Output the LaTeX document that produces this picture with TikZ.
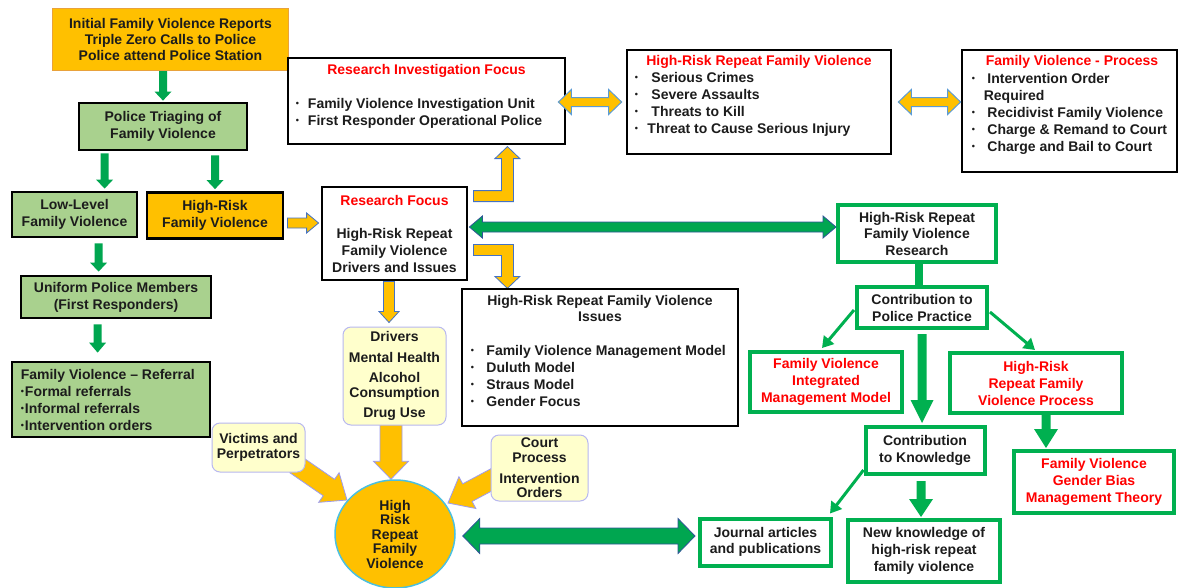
\documentclass[tikz,border=0pt]{standalone}
\usepackage{fontspec}
\setmainfont{Liberation Sans}
\usetikzlibrary{calc,arrows.meta,shapes.geometric}
\pgfdeclarelayer{bg}\pgfsetlayers{bg,main}
\definecolor{orA}{HTML}{FFC000}
\definecolor{lgreen}{HTML}{A9D18E}
\definecolor{gbord}{HTML}{00B050}
\definecolor{garrow}{HTML}{00A650}
\definecolor{ltyel}{HTML}{FFFFCC}
\definecolor{lav}{HTML}{B8B8F0}
\definecolor{circb}{HTML}{4BC0E0}
\definecolor{arrB}{HTML}{4472C4}
\definecolor{arrLB}{HTML}{5B9BD5}
\definecolor{arrLav}{HTML}{9C9CF0}
\definecolor{darkB}{HTML}{2F5597}
\definecolor{redT}{HTML}{FF0000}
\definecolor{txt}{HTML}{1C1C1C}
\definecolor{initB}{HTML}{E9A23B}
\newcommand\sbul{\raisebox{2pt}{\fontsize{9}{9}\selectfont\textbullet}}
\newcommand\blockarrow[6]{%
  \coordinate (bah) at ($(#3)!#6!(#2)$);
  \filldraw[#1] ($(#2)!#4!90:(#3)$) -- ($(bah)!#4!90:(#3)$) -- ($(bah)!#5!90:(#3)$) -- (#3) -- ($(bah)!#5!-90:(#3)$) -- ($(bah)!#4!-90:(#3)$) -- ($(#2)!#4!-90:(#3)$) -- cycle;}
\newcommand\dblarrow[6]{%
  \coordinate (daa) at ($(#2)!#6!(#3)$);
  \coordinate (dab) at ($(#3)!#6!(#2)$);
  \filldraw[#1] (#2) -- ($(daa)!#5!90:(#3)$) -- ($(daa)!#4!90:(#3)$) -- ($(dab)!#4!-90:(#2)$) -- ($(dab)!#5!-90:(#2)$) -- (#3) -- ($(dab)!#5!90:(#2)$) -- ($(dab)!#4!90:(#2)$) -- ($(daa)!#4!-90:(#3)$) -- ($(daa)!#5!-90:(#3)$) -- cycle;}
\tikzset{
  every node/.style={font=\fontsize{14}{17}\selectfont\bfseries, inner sep=0pt, align=center, text=txt},
  sz/.style 2 args={minimum width=#1pt, minimum height=#2pt},
  blk/.style={draw=black, line width=2.8pt},
  gbox/.style={blk, fill=lgreen},
  obox/.style={blk, fill=orA},
  wbox/.style={blk, fill=white},
  initbox/.style={fill=orA, draw=initB, line width=1pt},
  ybox/.style={rounded corners=8pt, fill=ltyel, draw=lav, line width=1pt},
  grbox/.style={draw=gbord, line width=4pt, fill=white},
  tight/.style={font=\fontsize{14}{14.5}\selectfont\bfseries},
  list/.style={anchor=west, font=\fontsize{14}{17}\selectfont\bfseries},
  garr/.style={fill=garrow, draw=none},
  gblk/.style={fill=gbord, draw=none},
  oarr/.style={fill=orA, draw=arrB, line width=0.8pt, line join=miter},
  carr/.style={fill=orA, draw=arrLav, line width=0.8pt},
  odarr/.style={fill=orA, draw=arrLB, line width=1pt},
  gdarr/.style={fill=garrow, draw=darkB, line width=0.8pt},
  tarr/.style={draw=gbord, line width=3pt, -{Triangle[width=13pt,length=11pt]}},
}
\begin{document}
\begin{tikzpicture}[x=1pt,y=-1pt]
\useasboundingbox (0,0) rectangle (1180,587);
% ---------- nodes ----------
\node[initbox, sz={236}{62}] (init) at (170.5,39) {Initial Family Violence Reports\\[-1pt]Triple Zero Calls to Police\\[-1pt]Police attend Police Station};
\node[gbox, sz={168}{47}] (triage) at (163,126.5) {Police Triaging of\\Family Violence};
\node[gbox, sz={125}{45}] (low) at (74.5,214.5) {Low-Level\\Family Violence};
\node[obox, sz={136}{46}] (hrfv) at (215,215.5) {High-Risk\\Family Violence};
\node[gbox, sz={190}{42}] (unif) at (116,297) {Uniform Police Members\\(First Responders)};
\node[gbox, sz={198}{75}] (refl) at (111,399.5) {};
\node[anchor=west, align=left] at ($(refl.west)+(10,0)$) {Family Violence – Referral\\\sbul\hspace{1pt}Formal referrals\\\sbul\hspace{1pt}Informal referrals\\\sbul\hspace{1pt}Intervention orders};

\node[wbox, sz={277}{86}] (rif) at (426.5,101) {};
\node[text=redT] at ($(rif.north)+(0,14)$) {Research Investigation Focus};
\node[anchor=west] at ($(rif.west)+(9,12.5)$) {\begin{tabular}{@{}l@{\hspace{9pt}}l@{}}\sbul & Family Violence Investigation Unit\\ \sbul & First Responder Operational Police\end{tabular}};

\node[wbox, sz={264}{104}] (hr) at (759,102) {};
\node[text=redT] at ($(hr.north)+(0,13)$) {High-Risk Repeat Family Violence};
\node[list] at ($(hr.west)+(9,2.5)$) {\begin{tabular}{@{}l@{\hspace{13.5pt}}l@{}}\sbul & Serious Crimes\\ \sbul & Severe Assaults\\ \sbul & Threats to Kill\\ \multicolumn{2}{@{}l@{}}{\sbul\hspace{9.5pt}Threat to Cause Serious Injury}\end{tabular}};

\node[wbox, sz={215}{122}] (fvp) at (1069.5,111) {};
\node[text=redT] at ($(fvp.north)+(2.5,13)$) {Family Violence - Process};
\node[list] at ($(fvp.west)+(11,3)$) {\begin{tabular}{@{}l@{\hspace{12.5pt}}l@{}}\sbul & Intervention Order\\ \multicolumn{2}{@{}l@{}}{\hspace{12pt}Required}\\ \sbul & Recidivist Family Violence\\ \sbul & Charge \& Remand to Court\\ \sbul & Charge and Bail to Court\end{tabular}};

\node[wbox, sz={145}{93}] (rf) at (394.5,233.5) {{\color{redT}Research Focus}\\[16pt]High-Risk Repeat\\Family Violence\\Drivers and Issues};

\node[wbox, sz={276}{137}] (iss) at (600,357.5) {};
\node at ($(iss.north)+(0,21)$) {High-Risk Repeat Family Violence\\[-1pt]Issues};
\node[anchor=west] at ($(iss.west)+(10,20)$) {\begin{tabular}{@{}l@{\hspace{12.5pt}}l@{}}\sbul & Family Violence Management Model\\ \sbul & Duluth Model\\ \sbul & Straus Model\\ \sbul & Gender Focus\end{tabular}};

\node[ybox, tight, sz={103}{98}] (drv) at (394.5,376) {Drivers\\[6.5pt]Mental Health\\[5.5pt]Alcohol\\Consumption\\[5.5pt]Drug Use};
\node[ybox, tight, sz={93}{49}] (vic) at (258.5,447.5) {Victims and\\Perpetrators};
\node[ybox, tight, sz={97}{66}] (court) at (539.5,468) {Court\\Process\\[6.5pt]Intervention\\Orders};
\node[ellipse, tight, fill=orA, draw=circb, line width=1.5pt, minimum width=120pt, minimum height=108pt] (hub) at (395,534) {High\\Risk\\Repeat\\Family\\Violence};

\node[grbox, sz={158}{57}, font=\fontsize{14}{16.5}\selectfont\bfseries] (res) at (917,233.5) {High-Risk Repeat\\Family Violence\\Research};
\node[grbox, sz={130}{41}] (cpp) at (922,307.5) {Contribution to\\Police Practice};
\node[grbox, sz={152}{60}, text=redT] (fvim) at (826,382) {Family Violence\\Integrated\\Management Model};
\node[grbox, sz={172}{60}, text=redT] (hrp) at (1036,383) {High-Risk\\Repeat Family\\Violence Process};
\node[grbox, sz={119}{47}] (ctk) at (925,450.5) {Contribution\\to Knowledge};
\node[grbox, sz={160}{62}, text=redT] (gb) at (1094,482) {Family Violence\\Gender Bias\\Management Theory};
\node[grbox, sz={131}{47}, font=\fontsize{14}{16.3}\selectfont\bfseries] (jour) at (765.5,542) {Journal articles\\and publications};
\node[grbox, sz={152}{62}] (nk) at (924,551) {New knowledge of\\high-risk repeat\\family violence};

% ---------- connectors (background) ----------
\begin{pgfonlayer}{bg}
\fill[white] (0,0) rectangle (1180,587);
% green down arrows, left column
\coordinate (g1s) at (init.south -| triage.north);
\coordinate (g1e) at ($(triage.north)+(0,-1)$);
\blockarrow{garr}{g1s}{g1e}{4pt}{8.5pt}{9pt}
\coordinate (g2s) at ($(triage.south west)+(27,2)$);
\coordinate (g2e) at ($(g2s |- low.north)+(0,-2)$);
\blockarrow{garr}{g2s}{g2e}{4pt}{8.5pt}{9pt}
\coordinate (g3s) at ($(triage.south -| hrfv.north)+(0,4)$);
\coordinate (g3e) at ($(hrfv.north)+(0,-2)$);
\blockarrow{garr}{g3s}{g3e}{4pt}{8.5pt}{9pt}
\coordinate (g4s) at ($(low.south west)+(88,5)$);
\coordinate (g4e) at ($(g4s |- unif.north)+(0,-3)$);
\blockarrow{garr}{g4s}{g4e}{4pt}{8.5pt}{9pt}
\coordinate (g5s) at ($(unif.south west)+(78,5)$);
\coordinate (g5e) at ($(g5s |- refl.north)+(0,-8)$);
\blockarrow{garr}{g5s}{g5e}{4pt}{8.5pt}{10pt}
% orange arrows
\coordinate (o1s) at ($(hrfv.east)+(3,7.5)$);
\coordinate (o1e) at ($(o1s -| rf.west)+(-2,0)$);
\blockarrow{oarr}{o1s}{o1e}{5pt}{10pt}{12pt}
\coordinate (Lup) at ($(rf.north east)+(5,5)$);
\filldraw[oarr] (Lup) -- ++(28,0) -- ++(0,-32) -- ++(-6.5,0) -- ++(12.5,-12) -- ++(12.5,12) -- ++(-6.5,0) -- ++(0,43) -- ++(-40,0) -- cycle;
\coordinate (Ldn) at ($(rf.south east)+(5,-37)$);
\filldraw[oarr] (Ldn) -- ++(40,0) -- ++(0,32) -- ++(6.5,0) -- ++(-12.5,12) -- ++(-12.5,-12) -- ++(6.5,0) -- ++(0,-21) -- ++(-28,0) -- cycle;
\coordinate (o2s) at ($(rf.south)+(-5.5,0)$);
\coordinate (o2e) at ($(o2s |- drv.north)+(0,-4)$);
\blockarrow{oarr}{o2s}{o2e}{5.5pt}{10pt}{11pt}
\coordinate (o3s) at ($(drv.south)+(-3.5,-2)$);
\coordinate (o3e) at (o3s |- hub.north);
\blockarrow{carr}{o3s}{o3e}{11pt}{17.5pt}{18pt}
\coordinate (o4s) at ($(vic.south east)+(-10,-8)$);
\coordinate (o4e) at ($(hub.center)+(-48,-34)$);
\blockarrow{carr}{o4s}{o4e}{10pt}{18pt}{22pt}
\coordinate (o5s) at ($(court.west)+(8,8)$);
\coordinate (o5e) at ($(hub.center)+(53,-31)$);
\blockarrow{carr}{o5s}{o5e}{10pt}{18pt}{22pt}
% green double arrows
\coordinate (d1a) at ($(rf.east)+(1,-6.5)$);
\coordinate (d1b) at (d1a -| res.west);
\dblarrow{gdarr}{d1a}{d1b}{5pt}{11pt}{13pt}
\coordinate (d2a) at ($(hub.east)+(7,2)$);
\coordinate (d2b) at ($(d2a -| jour.west)+(-3,0)$);
\dblarrow{gdarr}{d2a}{d2b}{8pt}{17.5pt}{17pt}
% right tree
\coordinate (t1) at ($(res.south)+(2,0)$);
\draw[gbord, line width=8pt] (t1) -- (t1 |- cpp.north);
\coordinate (t2s) at ($(cpp.south west)+(-1,-20)$);
\coordinate (t2e) at ($(fvim.north)+(-4,-2)$);
\draw[tarr] (t2s) -- (t2e);
\coordinate (t3s) at ($(cpp.south east)+(1,-18)$);
\coordinate (t3e) at ($(hrp.north)+(-1,-1)$);
\draw[tarr] (t3s) -- (t3e);
\coordinate (b1s) at ($(cpp.south)+(0,4)$);
\coordinate (b1e) at ($(b1s |- ctk.north)+(0,-2)$);
\blockarrow{gblk}{b1s}{b1e}{4.5pt}{11.5pt}{23pt}
\coordinate (b2s) at ($(hrp.south)+(10,0)$);
\coordinate (b2e) at ($(b2s |- gb.north)+(0,-1)$);
\blockarrow{gblk}{b2s}{b2e}{4.5pt}{12pt}{19pt}
\coordinate (b3s) at ($(ctk.south)+(-4,5)$);
\coordinate (b3e) at ($(b3s |- nk.north)+(0,-1)$);
\blockarrow{gblk}{b3s}{b3e}{4.5pt}{12pt}{18pt}
\coordinate (t4s) at ($(ctk.south west)+(0,-6)$);
\coordinate (t4e) at ($(jour.north east)+(-3,-3)$);
\draw[tarr] (t4s) -- (t4e);
\end{pgfonlayer}
% orange double arrows on top
\coordinate (d3a) at ($(rif.east)+(-8,1)$);
\coordinate (d3b) at ($(d3a -| hr.west)+(-4,0)$);
\dblarrow{odarr}{d3a}{d3b}{4.5pt}{12.5pt}{13pt}
\coordinate (d4a) at ($(hr.east |- d3a)+(6,0)$);
\coordinate (d4b) at (d4a -| fvp.west);
\dblarrow{odarr}{d4a}{d4b}{4.5pt}{12.5pt}{13pt}
\end{tikzpicture}
\end{document}
